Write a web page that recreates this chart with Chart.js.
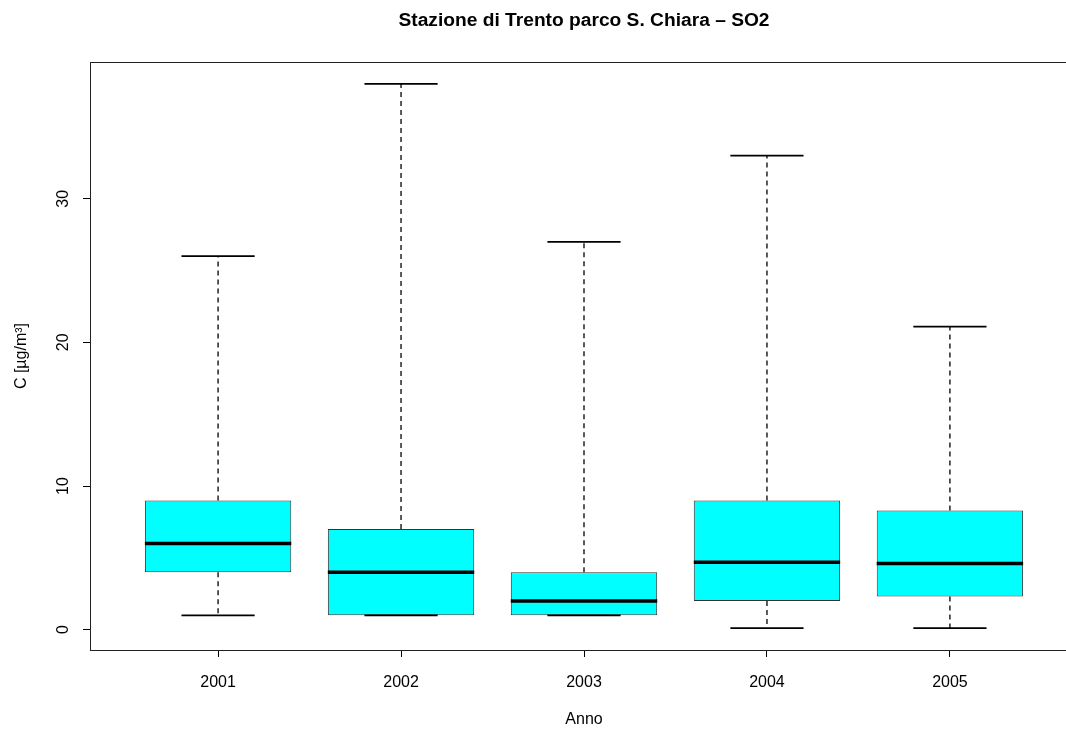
<!DOCTYPE html>
<html>
<head>
<meta charset="utf-8">
<script src="https://cdn.jsdelivr.net/npm/chart.js@4"></script>
<style>
    html, body { margin: 0; padding: 0; overflow: hidden; background: #fff; }
    #wrap { width: 1078px; height: 729px; }
</style>
</head>
<body>
<div id="wrap"><canvas id="box-chart"></canvas></div>
<script>
// five-number summaries
const years = ['2001', '2002', '2003', '2004', '2005'];
const whiskerLow = [1, 1, 1, 0.1, 0.1];
const boxLow = [4, 1, 1, 2, 2.3];
const medians = [6, 4, 2, 4.7, 4.6];
const boxHigh = [9, 7, 4, 9, 8.3];
const whiskerHigh = [26, 38, 27, 33, 21.1];
const yTicks = [0, 10, 20, 30];

const BOX_HALF = 0.4;
const CAP_HALF = 0.2;

// R pads the data range by 4% on each side
const lo = Math.min(...whiskerLow);
const hi = Math.max(...whiskerHigh);
const pad = (hi - lo) * 0.04;

const boxes = years.map((y, i) => ({ x: i + 1, y: [boxLow[i], boxHigh[i]] }));
const whiskers = [];
const caps = [];
const medianLines = [];
years.forEach((y, i) => {
    const x = i + 1;
    whiskers.push({ x: x, y: boxHigh[i] }, { x: x, y: whiskerHigh[i] }, { x: x, y: null });
    whiskers.push({ x: x, y: boxLow[i] }, { x: x, y: whiskerLow[i] }, { x: x, y: null });
    caps.push({ x: x - CAP_HALF, y: whiskerHigh[i] }, { x: x + CAP_HALF, y: whiskerHigh[i] }, { x: x, y: null });
    caps.push({ x: x - CAP_HALF, y: whiskerLow[i] }, { x: x + CAP_HALF, y: whiskerLow[i] }, { x: x, y: null });
    medianLines.push({ x: x - BOX_HALF, y: medians[i] }, { x: x + BOX_HALF, y: medians[i] }, { x: x, y: null });
});

// full frame round the plot region, like box() in R
const frame = {
    id: 'frame',
    afterDraw(chart) {
        const a = chart.chartArea;
        const ctx = chart.ctx;
        ctx.save();
        ctx.strokeStyle = '#222';
        ctx.lineWidth = 1;
        ctx.strokeRect(Math.round(a.left) + 0.5, Math.round(a.top) + 0.5, Math.round(a.right - a.left), Math.round(a.bottom - a.top));
        ctx.restore();
    }
};

Chart.defaults.font.family = '"Liberation Sans", Arial, sans-serif';
Chart.defaults.color = '#000';

const ctx = document.getElementById('box-chart').getContext('2d');
new Chart(ctx, {
    type: 'bar',
    data: {
        datasets: [
            {
                type: 'line',
                data: medianLines,
                borderColor: '#000',
                borderWidth: 3.5,
                pointRadius: 0,
                spanGaps: false,
                order: 0
            },
            {
                type: 'line',
                data: caps,
                borderColor: '#000',
                borderWidth: 1.7,
                pointRadius: 0,
                spanGaps: false,
                order: 1
            },
            {
                type: 'line',
                data: whiskers,
                borderColor: '#000',
                borderWidth: 1.3,
                borderDash: [5, 4],
                pointRadius: 0,
                spanGaps: false,
                order: 2
            },
            {
                type: 'bar',
                data: boxes,
                backgroundColor: '#00ffff',
                borderColor: '#333',
                borderWidth: 1,
                borderSkipped: false,
                barPercentage: 1,
                categoryPercentage: BOX_HALF * 2,
                order: 3
            }
        ]
    },
    options: {
        responsive: true,
        maintainAspectRatio: false,
        animation: false,
        layout: { padding: 0 },
        plugins: {
            legend: { display: false },
            tooltip: { enabled: false },
            title: {
                display: true,
                fullSize: false,
                text: 'Stazione di Trento parco S. Chiara \u2013 SO2',
                font: { size: 19.2, weight: 'bold' },
                color: '#000',
                padding: { top: 9, bottom: 30 }
            }
        },
        scales: {
            x: {
                type: 'linear',
                offset: false,
                min: 0.3,
                max: years.length + 0.7,
                afterBuildTicks: (scale) => {
                    scale.ticks = years.map((y, i) => ({ value: i + 1 }));
                },
                afterFit: (scale) => { scale.height = 79; },
                ticks: {
                    callback: (v) => years[v - 1],
                    font: { size: 16 },
                    padding: 16,
                    autoSkip: false,
                    maxRotation: 0
                },
                grid: {
                    offset: false,
                    drawOnChartArea: false,
                    drawTicks: true,
                    tickLength: 7,
                    tickColor: '#000'
                },
                border: { display: false },
                title: {
                    display: true,
                    text: 'Anno',
                    font: { size: 16 },
                    padding: { top: 0, bottom: 0 }
                }
            },
            y: {
                min: lo - pad,
                max: hi + pad,
                afterBuildTicks: (scale) => {
                    scale.ticks = yTicks.map(v => ({ value: v }));
                },
                afterFit: (scale) => { scale.width = 90; },
                ticks: {
                    font: { size: 16 },
                    minRotation: 90,
                    maxRotation: 90,
                    crossAlign: 'center',
                    padding: 11
                },
                grid: {
                    drawOnChartArea: false,
                    drawTicks: true,
                    tickLength: 7,
                    tickColor: '#000'
                },
                border: { display: false },
                title: {
                    display: true,
                    text: 'C [\u00b5g/m\u00b3]',
                    font: { size: 16 },
                    padding: { top: 12, bottom: 0 }
                }
            }
        }
    },
    plugins: [frame]
});
</script>
</body>
</html>
